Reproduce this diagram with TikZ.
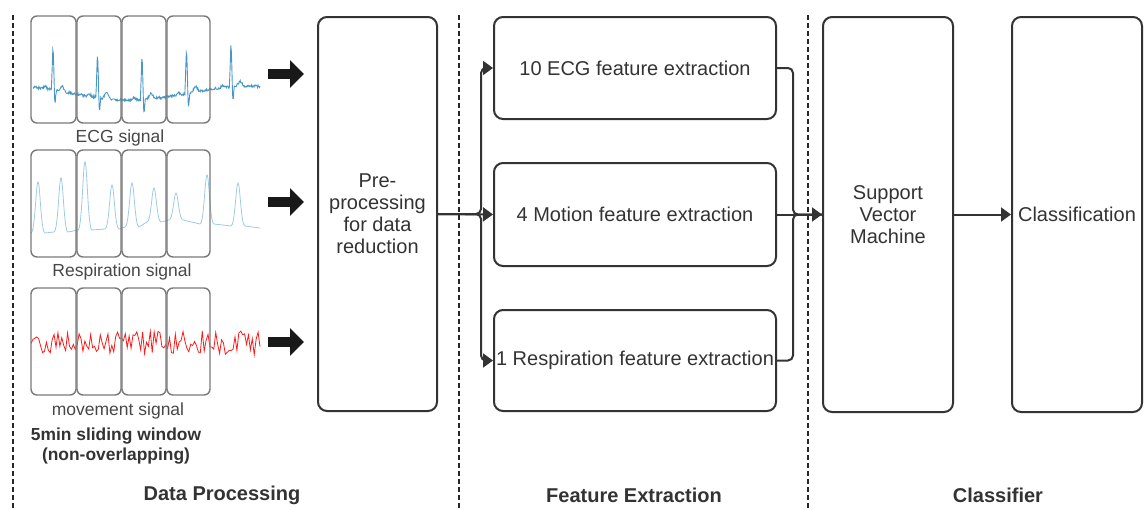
\documentclass[tikz,border=0pt]{standalone}
\usepackage{fontspec}
\setmainfont{Liberation Sans}
\usetikzlibrary{arrows.meta,positioning,calc}

\definecolor{boxline}{HTML}{333333}
\definecolor{txt}{HTML}{333333}
\definecolor{winline}{HTML}{7A7A7A}
\definecolor{ecgblue}{HTML}{4A97C6}
\definecolor{respblue}{HTML}{9CCBE2}
\definecolor{movred}{HTML}{FF1A1A}

\begin{document}
\begin{tikzpicture}[x=1pt,y=-1pt,
  block/.style={draw=boxline, line width=2pt, rounded corners=9pt, align=center,
    text=txt, font=\fontsize{20}{22}\selectfont, inner sep=0pt},
  window/.style={draw=winline, line width=1.4pt, rounded corners=6pt},
  conn/.style={boxline, line width=2pt, -{Triangle[length=10pt,width=14pt]}},
  link/.style={boxline, line width=2pt},
  bigarrow/.style={black!90, line width=10pt, -{Triangle[length=14pt,width=27pt]}},
  divider/.style={black!85, line width=2pt, dash pattern=on 5pt off 3pt},
  siglabel/.style={text=txt!90, font=\fontsize{17.5}{20}\selectfont},
  note/.style={text=txt, font=\fontsize{17.4}{20}\bfseries\selectfont},
  stage/.style={text=txt, font=\fontsize{20}{22}\bfseries\selectfont}]

\useasboundingbox (0,0) rectangle (1146,509);

% Stage dividers
\foreach \xd in {13,459,808}
  \draw[divider] (\xd,15) -- (\xd,509);

% ECG trace
\pgfmathsetseed{3}
\draw[ecgblue, line width=0.9pt] plot[domain=33:260, samples=460]
  (\x, {93 + 7*cos((\x-130)*1.5) + 1.3*rand
        - 46*max(0,1-abs(mod(\x+14.5,44.5)-23)/1.6)
        + 14*max(0,1-abs(mod(\x+14.5,44.5)-25)/1.3)
        - 6*max(0,1-abs(mod(\x+14.5,44.5)-32)/4)
        - 3*max(0,1-abs(mod(\x+14.5,44.5)-15)/3)});

% Respiration trace
\draw[respblue, line width=0.8pt] (31,232)
  \foreach \p/\h/\b in {38/182/233, 61/178/232, 85/162/230, 112/185/229, 132/183/227,
                        154/188/222, 176/193/220, 207/175/224, 238/183/226}
  { -- (\p-7,\b) .. controls (\p-3,\b) and (\p-2,\h) .. (\p,\h)
      .. controls (\p+2,\h) and (\p+3,\b) .. (\p+7,\b) }
  -- (260,228);

% Movement trace
\pgfmathsetseed{11}
\draw[movred, line width=0.8pt] plot[domain=31:260, samples=120] (\x, {343 + 12*rand});

% Sliding windows
\foreach \top in {16,150,288}
  \foreach \l/\r in {31/76,77/121,122/166,167/210}
    \draw[window] (\l,\top) rectangle (\r,\top+107);

\node[siglabel] (ecglab) at (120,138) {ECG signal};
\node[siglabel] (resplab) at (122,272) {Respiration signal};
\node[siglabel] (movlab) at (118,411) {movement signal};
\node[note, align=center] (winlab) at (116,446) {5min sliding window\\(non-overlapping)};

% Signal arrows
\foreach \row/\y in {ecg/74, resp/202, mov/342} {
  \coordinate (\row-s) at (268,\y);
  \coordinate (\row-e) at (304,\y);
  \draw[bigarrow] (\row-s) -- (\row-e);
}

% Blocks
\node[block, minimum width=119pt, minimum height=394pt] (pre) at (377.5,214)
  {Pre-\\processing\\for data\\reduction};
\node[block, minimum width=282pt, minimum height=102pt] (f1) at (635,68)
  {10 ECG feature extraction};
\node[block, minimum width=282pt, minimum height=103pt] (f2) at (635,214.5)
  {4 Motion feature extraction};
\node[block, minimum width=282pt, minimum height=101pt] (f3) at (635,360.5)
  {1 Respiration feature extraction};
\node[block, minimum width=130pt, minimum height=395pt] (svm) at (888,214.5)
  {Support\\Vector\\Machine};
\node[block, minimum width=130pt, minimum height=395pt] (cls) at (1077,214.5)
  {Classification};

% Buses
\coordinate (busL) at (481,214.5);
\coordinate (busR) at (793,214.5);

\draw[conn] (pre.east) -- (f2.west);
\draw[conn, rounded corners=5pt] (pre.east) -| (busL |- f1.west) -- (f1.west);
\draw[conn, rounded corners=5pt] (pre.east) -| (busL |- f3.west) -- (f3.west);

\draw[link, rounded corners=5pt] (f1.east) -| (busR) -- (svm.west);
\draw[link, rounded corners=5pt] (f3.east) -| (busR) -- (svm.west);
\draw[conn] (f2.east) -- (svm.west);
\draw[conn] (svm.east) -- (cls.west);

% Stage titles
\node[stage] (dp) at (222,495) {Data Processing};
\node[stage] (fe) at (634,495) {Feature Extraction};
\node[stage] (cl) at (998,495) {Classifier};

\end{tikzpicture}
\end{document}
